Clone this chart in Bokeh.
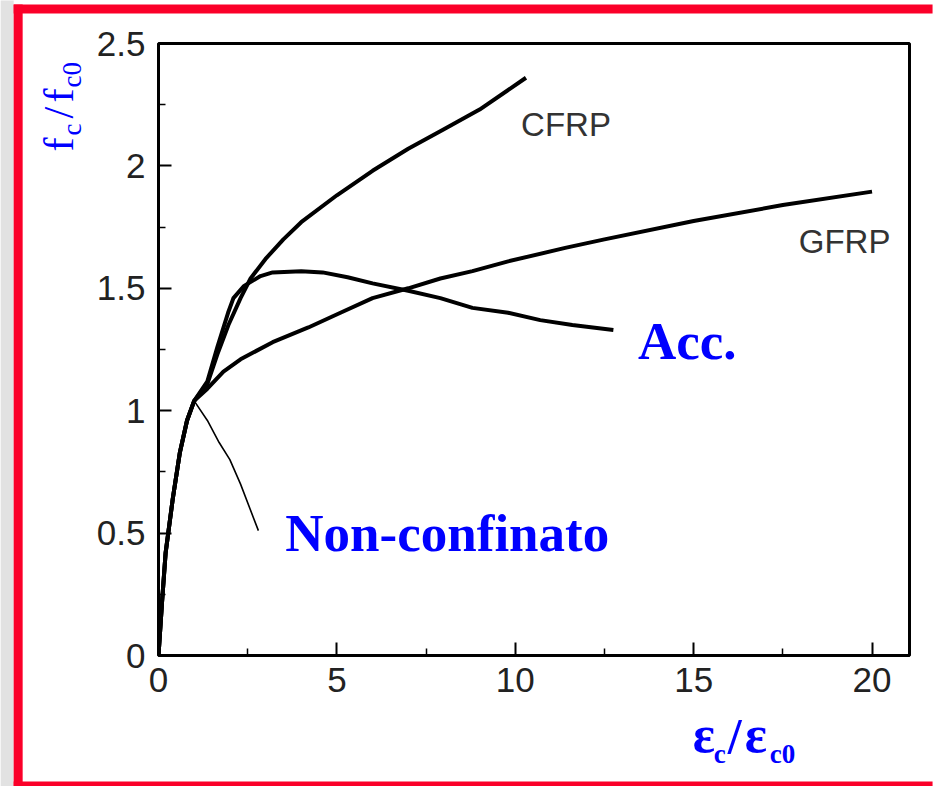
import numpy as np
from bokeh.plotting import figure
from bokeh.models import FixedTicker, Range1d
from bokeh.core.properties import value
from bokeh.embed import file_html
from bokeh.resources import INLINE

# ---- data ----
common_x = [0.0, 0.1, 0.2, 0.4, 0.6, 0.8, 1.0]
common_y = [0.0, 0.22, 0.42, 0.64, 0.83, 0.96, 1.04]

cfrp_x = common_x + [1.37, 1.65, 1.96, 2.3, 2.58, 3.0, 3.5, 4.0, 5.0, 6.0, 7.0, 8.0, 9.0, 10.3]
cfrp_y = common_y + [1.11, 1.23, 1.35, 1.46, 1.54, 1.62, 1.70, 1.77, 1.88, 1.98, 2.07, 2.15, 2.23, 2.36]

gfrp_x = common_x + [1.37, 1.82, 2.3, 3.2, 4.2, 5.1, 6.0, 7.0, 7.9, 8.8, 9.8, 11.4, 12.5, 15.0, 17.5, 20.0]
gfrp_y = common_y + [1.09, 1.16, 1.21, 1.28, 1.34, 1.40, 1.46, 1.50, 1.54, 1.57, 1.61, 1.665, 1.70, 1.775, 1.84, 1.895]

acc_x = common_x + [1.37, 1.65, 1.95, 2.1, 2.4, 2.86, 3.2, 4.0, 4.6, 5.3, 6.0, 7.0, 7.9, 8.8, 9.8, 10.7, 11.6, 12.75]
acc_y = common_y + [1.12, 1.26, 1.40, 1.46, 1.51, 1.55, 1.565, 1.57, 1.565, 1.545, 1.52, 1.49, 1.46, 1.42, 1.40, 1.37, 1.35, 1.33]

unconf_x = common_x + [1.37, 1.7, 2.0, 2.3, 2.8]
unconf_y = common_y + [0.96, 0.87, 0.80, 0.70, 0.51]

x_ticks = [0, 5, 10, 15, 20]
x_minor = [2.5, 7.5, 12.5, 17.5]
y_ticks = [0, 0.5, 1, 1.5, 2, 2.5]
y_minor = [0.25, 0.75, 1.25, 1.75, 2.25]

# ---- figure ----
W, H = 933, 786
p = figure(width=W, height=H, x_range=Range1d(0, 21.05), y_range=Range1d(0, 2.5),
           output_backend="svg", toolbar_location=None,
           min_border_left=158, min_border_right=24, min_border_top=43, min_border_bottom=131)
p.grid.visible = False
p.background_fill_color = "white"
p.border_fill_color = "white"
p.outline_line_color = "black"
p.outline_line_width = 3

for ax, ticks, minor in ((p.xaxis[0], x_ticks, x_minor), (p.yaxis[0], y_ticks, y_minor)):
    ax.ticker = FixedTicker(ticks=ticks, minor_ticks=minor)
    ax.axis_line_width = 2
    ax.axis_line_color = "black"
    ax.major_tick_in = 13
    ax.major_tick_out = 0
    ax.minor_tick_in = 7
    ax.minor_tick_out = 0
    ax.major_tick_line_width = 2
    ax.minor_tick_line_width = 1.5
    ax.major_label_text_font = "Liberation Sans"
    ax.major_label_text_font_size = "35px"
    ax.major_label_text_color = "#222222"
p.xaxis[0].major_label_standoff = 12
p.yaxis[0].major_label_standoff = 13
p.xaxis[0].major_label_overrides = {0: "0", 5: "5", 10: "10", 15: "15", 20: "20"}
p.yaxis[0].major_label_overrides = {0: "0", 0.5: "0.5", 1: "1", 1.5: "1.5", 2: "2", 2.5: "2.5"}

# curves
p.line(cfrp_x, cfrp_y, line_color="black", line_width=4, line_join="round")
p.line(gfrp_x, gfrp_y, line_color="black", line_width=4, line_join="round")
p.line(acc_x, acc_y, line_color="black", line_width=4, line_join="round")
p.line(unconf_x, unconf_y, line_color="black", line_width=1.6, line_join="round")

# page-pixel -> data helpers for placing decorations / texts
def X(px):
    return (px - 158) / 35.72

def Y(py):
    return (655 - py) / 244.8

RED = "#fb0029"
# slide decoration (drawn at overlay level so it is not clipped to the frame)
p.quad(left=[X(0)], right=[X(13)], top=[Y(0)], bottom=[Y(786)],
       fill_color="#e2e2e2", line_alpha=0, level="overlay")
p.quad(left=[X(13), X(13), X(13)], right=[X(22), X(933), X(933)],
       top=[Y(4), Y(4), Y(781)], bottom=[Y(786), Y(13), Y(786)],
       fill_color=RED, line_alpha=0, level="overlay")

def lab(text, px, py, size, font="Liberation Sans", color="#333333", style="normal", angle=0.0):
    p.text(x=[X(px)], y=[Y(py)], text=[text], text_font=value(font), text_font_size=size,
           text_color=color, text_font_style=style, text_align="left",
           text_baseline="middle", angle=angle, level="overlay")

BLUE = "#0000ff"
lab("CFRP", 521, 124, "33px")
lab("GFRP", 799, 241, "33px")
lab("Acc.", 638, 340, "53px", font="Liberation Serif", color=BLUE, style="bold")
lab("Non-confinato", 285, 532, "53px", font="Liberation Serif", color=BLUE, style="bold")

# x title: eps_c / eps_c0
lab("\u03b5", 693, 734, "52px", font="Liberation Serif", color=BLUE, style="bold")
lab("c", 714, 753, "27px", font="Liberation Serif", color=BLUE, style="bold")
lab("/", 728, 735, "50px", font="Liberation Serif", color=BLUE, style="bold")
lab("\u03b5", 745, 734, "52px", font="Liberation Serif", color=BLUE, style="bold")
lab("c0", 770, 753, "27px", font="Liberation Serif", color=BLUE, style="bold")

# y title: f_c / f_c0 (rotated)
A = np.pi / 2
lab("f", 58, 151, "42px", font="Liberation Serif", color=BLUE, angle=A)
lab("c", 71, 135, "27px", font="Liberation Serif", color=BLUE, angle=A)
lab("/", 58, 118, "42px", font="Liberation Serif", color=BLUE, angle=A)
lab("f", 58, 102, "42px", font="Liberation Serif", color=BLUE, angle=A)
lab("c0", 71, 87, "27px", font="Liberation Serif", color=BLUE, angle=A)

open("out.html", "w").write(file_html(p, INLINE))
